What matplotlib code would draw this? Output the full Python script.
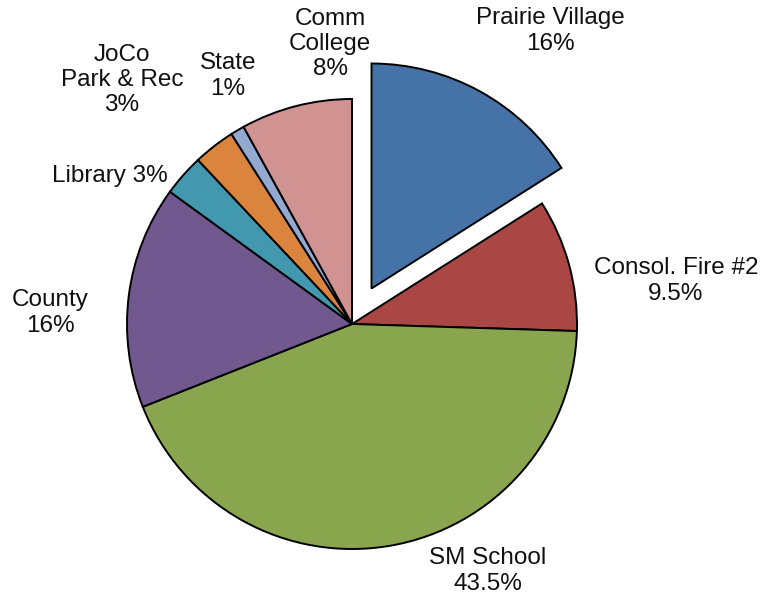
import matplotlib.pyplot as plt

plt.rcParams['font.family'] = ['Liberation Sans', 'DejaVu Sans']

# Share of property tax by taxing entity (clockwise from top)
names = ['Prairie Village', 'Consol. Fire #2', 'SM School', 'County',
         'Library', 'JoCo\nPark & Rec', 'State', 'Comm\nCollege']
shares = [16, 9.5, 43.5, 16, 3, 3, 1, 8]
share_labels = ['16%', '9.5%', '43.5%', '16%', '3%', '3%', '1%', '8%']
colors = ['#4572A7', '#AA4643', '#89A54E', '#71588F',
          '#4198AF', '#DB843D', '#93A9CF', '#D19392']
explode = [0.18, 0, 0, 0, 0, 0, 0, 0]

fig = plt.figure(figsize=(7.63, 5.96), dpi=100)
W, H = 763, 596
cx, cy, r = 352, 324, 225
ax = fig.add_axes([(cx - r) / W, (H - cy - r) / H, 2 * r / W, 2 * r / H])

ax.pie(shares, colors=colors, explode=explode, startangle=90,
       counterclock=False, radius=1,
       wedgeprops=dict(edgecolor='black', linewidth=1.4))
ax.set_xlim(-1, 1)
ax.set_ylim(-1, 1)
ax.axis('off')

# label centers in pixel coordinates of the reference
label_pos = [(550, 31), (676, 281), (488, 571), (50, 313),
             (110, 176), (122, 80), (228, 76), (330, 44)]

for name, lab, (px, py) in zip(names, share_labels, label_pos):
    if name == 'Library':
        text = name + ' ' + lab
    else:
        text = name + '\n' + lab
    ax.text((px - cx) / r, (cy - py) / r, text, ha='center', va='center',
            fontsize=17.5, color='#111111', linespacing=1.2)

fig.savefig('out.png', dpi=100)
